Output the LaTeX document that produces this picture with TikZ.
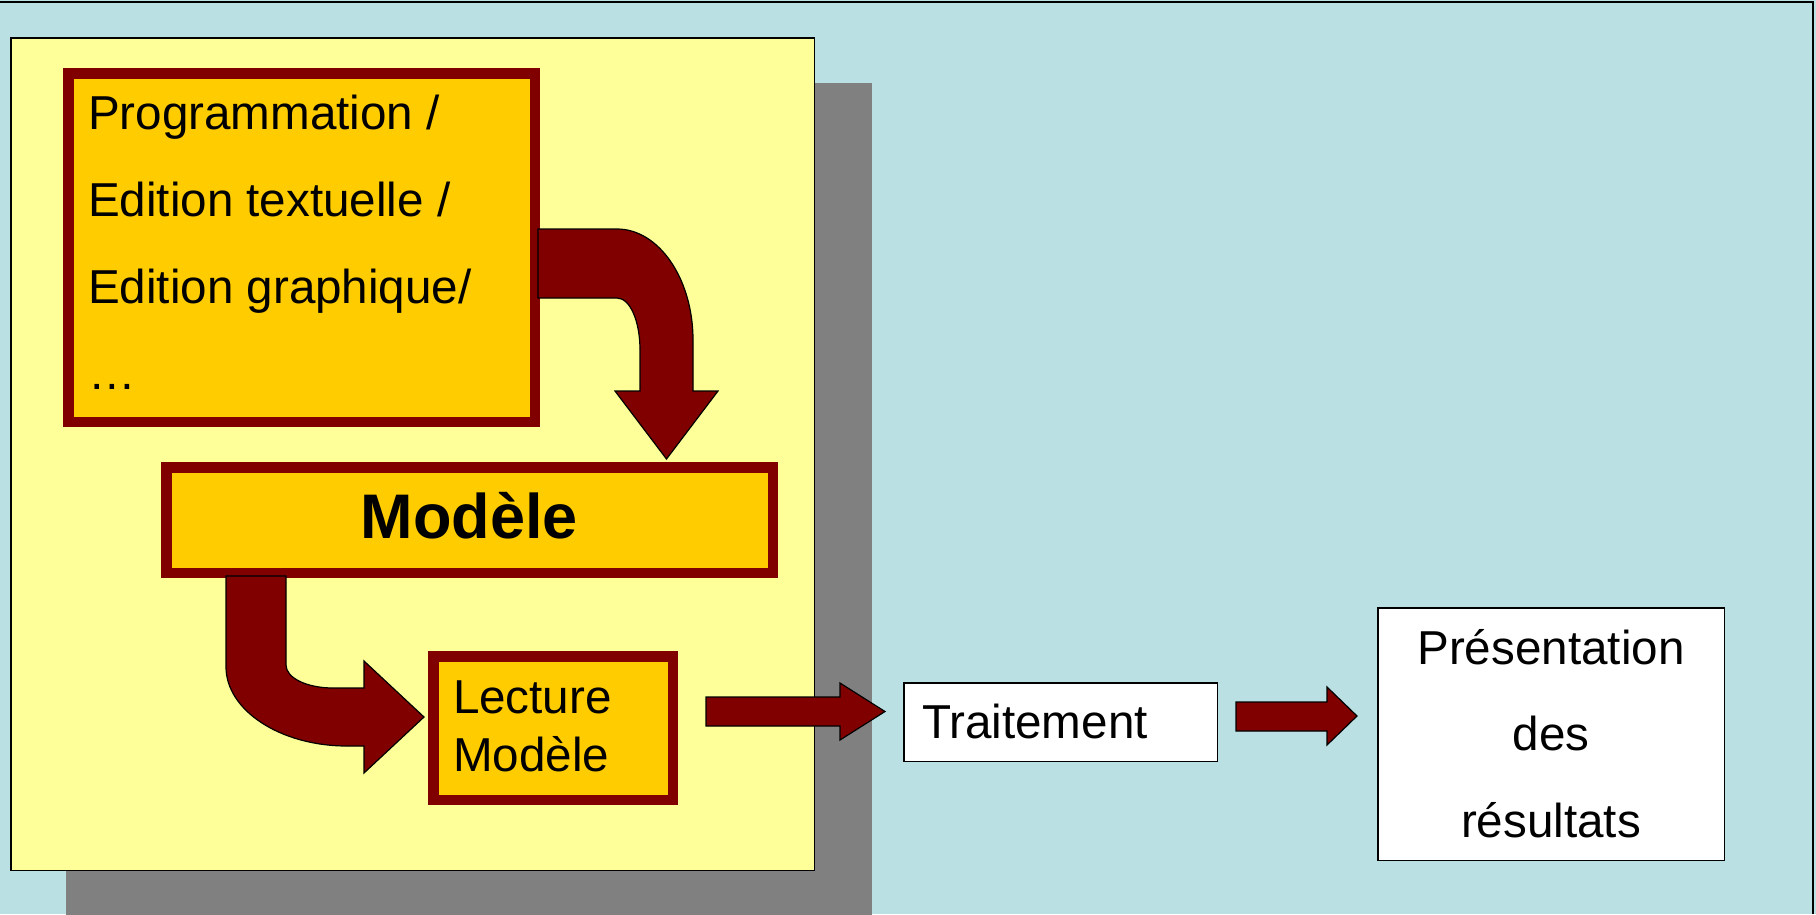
\documentclass[tikz,border=0pt]{standalone}
\usepackage{fontspec}
\setmainfont{Liberation Sans}
\usetikzlibrary{calc}
\definecolor{bgblue}{HTML}{BBE0E3}
\definecolor{paleyellow}{HTML}{FFFF99}
\definecolor{goldfill}{HTML}{FFCC00}
\definecolor{darkred}{HTML}{800000}
\definecolor{shadowgray}{HTML}{808080}
\tikzset{
  redbox/.style={draw=darkred, fill=goldfill, line width=10.5pt, inner sep=0pt, outer sep=0pt, rectangle},
  whitebox/.style={draw=black, fill=white, line width=1.5pt, inner sep=0pt, outer sep=0pt, rectangle},
  txt/.style={inner sep=0pt, outer sep=0pt, font=\fontsize{47.6}{56}\selectfont},
  bigtxt/.style={inner sep=0pt, outer sep=0pt, font=\fontsize{63}{70}\selectfont\bfseries},
  blockarrow/.style={draw=black, fill=darkred, line width=1.2pt, line join=miter}
}
\begin{document}
\begin{tikzpicture}[x=1pt, y=-1pt]
\useasboundingbox (0,0) rectangle (1816,914);
% background
\fill[bgblue] (0,0) rectangle (1816,914);
\draw[line width=2pt] (0,2) -- (1813,2) -- (1813,914);
% shadow and panel
\fill[shadowgray] (66,83) rectangle (872,920);
\draw[fill=paleyellow, line width=1.5pt] (10.75,37.75) rectangle (814.25,870.25);

% boxes
\node[redbox, minimum width=466.5pt, minimum height=348.5pt] (prog) at (301.5,247.5) {};
\node[redbox, minimum width=606.5pt, minimum height=105.5pt] (modele) at (469.5,520) {};
\node[redbox, minimum width=239.5pt, minimum height=143.5pt] (lecture) at (553,728) {};
\node[whitebox, minimum width=313.5pt, minimum height=78.5pt] (traitement) at (1060.5,722) {};
\node[whitebox, minimum width=346.5pt, minimum height=252.5pt] (presentation) at (1551,734) {};

% texts
\node[txt, anchor=base west] (p1) at (88,129) {Programmation /};
\node[txt, anchor=base west] (p2) at (88,216.5) {Edition textuelle /};
\node[txt, anchor=base west] (p3) at (88,303) {Edition graphique/};
\node[txt, anchor=base west] (p4) at (88,389) {…};
\node[bigtxt, anchor=base] (m1) at (469.5,538) {Modèle};
\node[txt, anchor=base west] (l1) at (453,713) {Lecture};
\node[txt, anchor=base west] (l2) at (453,771) {Modèle};
\node[txt, anchor=base west] (t1) at (922,738) {Traitement};
\node[txt, anchor=base] (r1) at (1551,664) {Présentation};
\node[txt, anchor=base] (r2) at (1551,750) {des};
\node[txt, anchor=base] (r3) at (1551,837) {résultats};

% arrow prog -> modele
\draw[blockarrow] (538,229) -- (617,229) .. controls (659,229) and (693,279) .. (693,340)
  -- (693,391) -- (718,391) -- (666.5,459) -- (615,391) -- (640,391) -- (640,350)
  .. controls (640,321) and (630,298) .. (617,298) -- (538,298) -- cycle;
% arrow modele -> lecture
\draw[blockarrow] (226,576) -- (226,667) .. controls (226,710) and (280,746) .. (347,746)
  -- (364,746) -- (364,773) -- (424,717) -- (364,661) -- (364,688) -- (333,688)
  .. controls (307,688) and (286,678) .. (286,665) -- (286,576) -- cycle;
% arrow lecture -> traitement
\draw[blockarrow] (706,697) -- (840,697) -- (840,683) -- (885,711.5) -- (840,740)
  -- (840,726) -- (706,726) -- cycle;
% arrow traitement -> presentation
\draw[blockarrow] (1236,702) -- (1327,702) -- (1327,687) -- (1357,716) -- (1327,745)
  -- (1327,731) -- (1236,731) -- cycle;
\end{tikzpicture}
\end{document}
